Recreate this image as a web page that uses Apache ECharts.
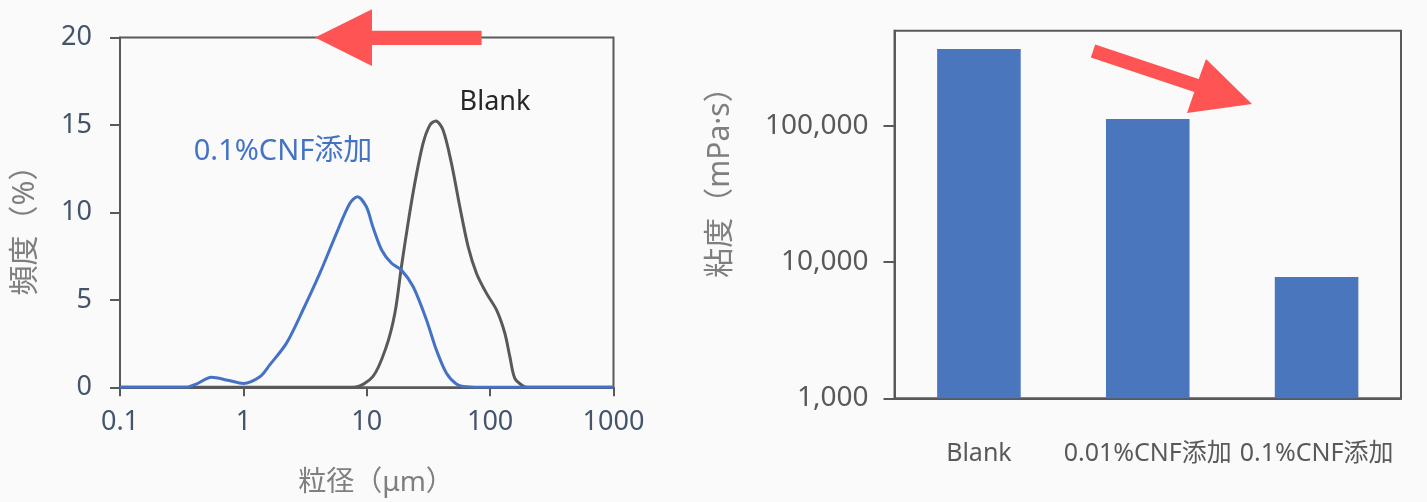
<!DOCTYPE html>
<html>
<head>
<meta charset="utf-8">
<script src="https://cdn.jsdelivr.net/npm/echarts@6/dist/echarts.min.js"></script>
<style>
html,body{margin:0;padding:0;background:#FAFAFA;}
#c{width:1427px;height:502px;}
</style>
</head>
<body>
<div id="c"></div>
<script>
// ---- Left chart: particle size distribution (log x) ----
const xTicks = [0.1, 1, 10, 100, 1000];
const yTicks = [0, 5, 10, 15, 20];
const cnfSize = [0.1, 0.34, 0.42, 0.55, 0.75, 1.0, 1.36, 1.63, 2.23, 3.04, 4.16, 5.68, 7.28, 8.4, 9.93, 11.2, 13.2, 15.9, 19.1, 23.8, 30.5, 36.7, 44.3, 53.3, 64.5, 100, 1000];
const cnfFreq = [0, 0, 0.2, 0.57, 0.4, 0.22, 0.6, 1.27, 2.51, 4.42, 6.51, 8.8, 10.51, 10.89, 10.32, 9.18, 7.85, 7.09, 6.7, 5.75, 3.85, 2.13, 0.8, 0.19, 0.03, 0, 0];
const blankSize = [0.1, 7.74, 11.2, 14.4, 16.9, 19.1, 21.6, 24.5, 28.6, 32.5, 36.3, 41.6, 48.6, 56.8, 66.4, 77.6, 93.5, 112.7, 131.6, 144.5, 158.6, 185, 200, 1000];
const blankFreq = [0, 0, 0.61, 2.32, 4.23, 6.89, 9.37, 11.66, 13.94, 14.99, 15.23, 14.7, 12.8, 10.32, 8.03, 6.51, 5.37, 4.42, 3.09, 1.75, 0.51, 0.07, 0, 0];

// ---- Right chart: viscosity (log y) ----
const samples = ['Blank', '0.01%CNF添加', '0.1%CNF添加'];
const viscosity = [367000, 112500, 7760];
const viscTicks = [1000, 10000, 100000];

const FONT = '"Noto Sans", "Noto Sans CJK JP", sans-serif';
const AX = '#595959';
const zip = (a, b) => a.map((v, i) => [v, b[i]]);

const chart = echarts.init(document.getElementById('c'));
chart.setOption({
  backgroundColor: '#FAFAFA',
  textStyle: { fontFamily: FONT },
  animation: false,
  grid: [
    { left: 120, width: 493.5, top: 37.5, height: 349.8, show: true, borderColor: AX, borderWidth: 2, backgroundColor: 'transparent' },
    { left: 894.5, width: 506.5, top: 30.7, height: 367.6, show: true, borderColor: AX, borderWidth: 2, backgroundColor: 'transparent' }
  ],
  xAxis: [
    {
      gridIndex: 0, type: 'log', logBase: 10, min: xTicks[0], max: xTicks[xTicks.length - 1],
      axisLine: { show: true, onZero: false, lineStyle: { color: AX, width: 2 } },
      axisTick: { show: true, length: 9, lineStyle: { color: AX, width: 2 } },
      minorTick: { show: false }, splitLine: { show: false }, minorSplitLine: { show: false },
      axisLabel: { color: '#44546A', fontSize: 27, margin: 22, fontFamily: FONT,
        formatter: v => String(parseFloat(Number(v).toPrecision(6))) }
    },
    {
      gridIndex: 1, type: 'category', data: samples,
      axisLine: { show: true, onZero: false, lineStyle: { color: AX, width: 2 } },
      axisTick: { show: false },
      axisLabel: { color: AX, fontSize: 25, margin: 43, fontFamily: FONT, interval: 0 }
    }
  ],
  yAxis: [
    {
      gridIndex: 0, type: 'value', min: yTicks[0], max: yTicks[yTicks.length - 1], interval: 5,
      axisLine: { show: true, onZero: false, lineStyle: { color: AX, width: 2 } },
      axisTick: { show: true, length: 10, lineStyle: { color: AX, width: 2 } },
      splitLine: { show: false },
      axisLabel: { color: '#44546A', fontSize: 27, margin: 28, fontFamily: FONT }
    },
    {
      gridIndex: 1, type: 'log', logBase: 10, min: 1000, max: 500000,
      axisLine: { show: true, onZero: false, lineStyle: { color: AX, width: 2 } },
      axisTick: { show: true, length: 11, lineStyle: { color: AX, width: 2 }, customValues: viscTicks },
      minorTick: { show: false }, splitLine: { show: false }, minorSplitLine: { show: false },
      axisLabel: { color: AX, fontSize: 28, margin: 26, fontFamily: FONT, customValues: viscTicks,
        formatter: v => Number(v).toLocaleString('en-US') }
    }
  ],
  series: [
    {
      name: 'Blank', type: 'line', xAxisIndex: 0, yAxisIndex: 0,
      data: zip(blankSize, blankFreq), showSymbol: false, smooth: 0.3,
      lineStyle: { color: '#595959', width: 3 }, z: 3
    },
    {
      name: '0.1%CNF添加', type: 'line', xAxisIndex: 0, yAxisIndex: 0,
      data: zip(cnfSize, cnfFreq), showSymbol: false, smooth: 0.3,
      lineStyle: { color: '#4472C4', width: 3 }, z: 4
    },
    {
      name: '粘度', type: 'bar', xAxisIndex: 1, yAxisIndex: 1,
      data: viscosity, barWidth: '49.5%',
      itemStyle: { color: '#4A76BD' }
    }
  ],
  graphic: [
    // left y title
    { type: 'text', x: 25, y: 223, rotation: Math.PI / 2,
      style: { text: '頻度（%）', fontSize: 30, fontFamily: FONT, fill: '#7F7F7F', align: 'center', verticalAlign: 'middle' } },
    // left x title
    { type: 'text', x: 376, y: 483,
      style: { text: '粒径（μm）', fontSize: 28, fontFamily: FONT, fill: '#7F7F7F', align: 'center', verticalAlign: 'middle' } },
    // right y title
    { type: 'text', x: 720, y: 175, rotation: Math.PI / 2,
      style: { text: '粘度（mPa·s）', fontSize: 30, fontFamily: FONT, fill: '#7F7F7F', align: 'center', verticalAlign: 'middle' } },
    // curve annotations
    { type: 'text', x: 495, y: 102,
      style: { text: 'Blank', fontSize: 27, fontFamily: FONT, fill: '#262626', align: 'center', verticalAlign: 'middle' } },
    { type: 'text', x: 283, y: 152,
      style: { text: '0.1%CNF添加', fontSize: 29, fontFamily: FONT, fill: '#4472C4', align: 'center', verticalAlign: 'middle' } },
    // red arrows
    { type: 'polygon', z: 100,
      shape: { points: [[481.6, 30.7], [372, 30.7], [372, 9.3], [315, 37.6], [372, 66], [372, 45], [481.6, 45]] },
      style: { fill: '#FF5454' } },
    { type: 'polygon', z: 100,
      shape: { points: [[1095.2, 44.4], [1198.7, 78.9], [1206, 59], [1252, 104], [1187, 113], [1194.3, 92.1], [1090.8, 57.6]] },
      style: { fill: '#FF5454' } }
  ]
});
</script>
</body>
</html>
